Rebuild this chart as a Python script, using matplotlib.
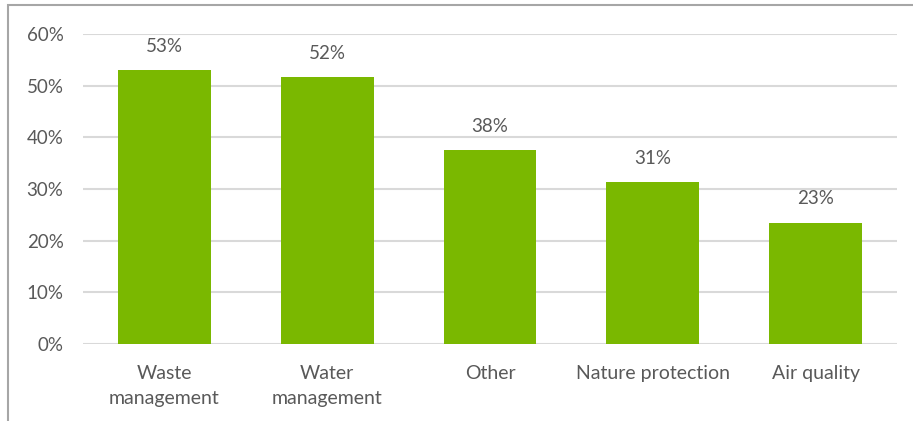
import matplotlib.pyplot as plt
from matplotlib.patches import Rectangle

categories = ["Waste\nmanagement", "Water\nmanagement", "Other", "Nature protection", "Air quality"]
shares = [0.53, 0.516, 0.375, 0.313, 0.235]
share_labels = ["53%", "52%", "38%", "31%", "23%"]
yticks = [0, 0.1, 0.2, 0.3, 0.4, 0.5, 0.6]

plt.rcParams['font.family'] = ['Lato', 'DejaVu Sans']
text_color = '#595959'

fig = plt.figure(figsize=(9.13, 4.21), dpi=100)
ax = fig.add_axes([83/913, 1 - 344/421, 814/913, 310/421])

bars = ax.bar(range(len(categories)), shares, width=0.57, color='#7AB800', zorder=2)

for rect, lab in zip(bars, share_labels):
    ax.annotate(lab, (rect.get_x() + rect.get_width()/2, rect.get_height()),
                xytext=(0, 17), textcoords='offset points',
                ha='center', va='center', fontsize=13.5, color=text_color)

ax.set_xlim(-0.5, len(categories) - 0.5)
ax.set_ylim(0, 0.6)
ax.set_yticks(yticks)
ax.set_yticklabels(['%d%%' % round(t*100) for t in yticks])
ax.set_xticks(range(len(categories)))
ax.set_xticklabels(categories, linespacing=1.6)
ax.tick_params(axis='y', length=0, pad=14, labelsize=13.5, labelcolor=text_color)
ax.tick_params(axis='x', length=0, pad=15, labelsize=14, labelcolor=text_color)
ax.grid(axis='y', color='#D9D9D9', linewidth=1.5, zorder=0)
for s in ax.spines.values():
    s.set_visible(False)

# outer chart frame
fig.patches.append(Rectangle((8/913, -0.1), 1.2, 1.1 - 5/421, transform=fig.transFigure,
                             fill=False, edgecolor='#A6A6A6', linewidth=1.5))

fig.savefig('out.png', dpi=100)
